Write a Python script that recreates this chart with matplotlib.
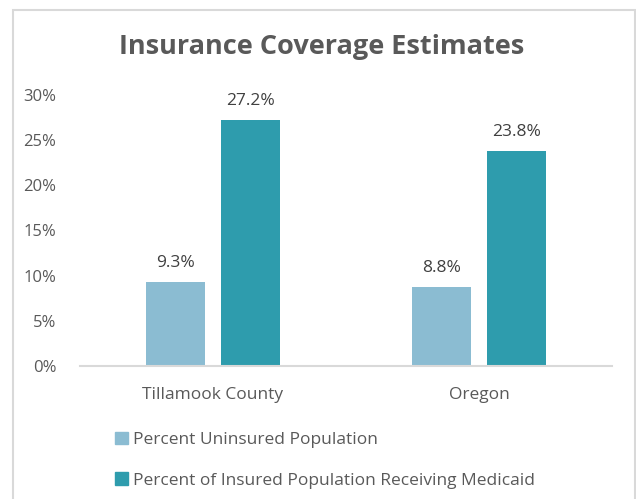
import numpy as np
import matplotlib.pyplot as plt
from matplotlib.patches import Rectangle, Patch

# ----------  Data  ----------
categories = ['Tillamook County', 'Oregon']
uninsured = [9.3, 8.8]
medicaid = [27.2, 23.8]
series_names = ['Percent Uninsured Population',
                'Percent of Insured Population Receiving Medicaid']
y_ticks = [0, 5, 10, 15, 20, 25, 30]

# ----------  Style  ----------
light = '#8bbcd2'
dark = '#2e9cad'
text_grey = '#595959'
plt.rcParams['font.family'] = ['Open Sans', 'DejaVu Sans']

fig = plt.figure(figsize=(6.36, 4.99), dpi=100)
ax = fig.add_axes([80/636, 1 - 366/499, 532/636, 271/499])

# chart frame
fig.patches.append(Rectangle((13/636, -0.1), 622/636, 1 - 10/499 + 0.1,
                             transform=fig.transFigure, fill=False,
                             edgecolor='#d9d9d9', linewidth=1.5))

x = np.arange(len(categories))
w = 0.222
off = 0.141
b1 = ax.bar(x - off, uninsured, w, color=light)
b2 = ax.bar(x + off, medicaid, w, color=dark)

for bars, vals in ((b1, uninsured), (b2, medicaid)):
    for b, v in zip(bars, vals):
        ax.text(b.get_x() + b.get_width()/2, v + 1.2, f'{v:.1f}%',
                ha='center', va='bottom', fontsize=12.5, color='#404040')

ax.set_xlim(-0.5, 1.5)
ax.set_ylim(0, 30)
ax.set_yticks(y_ticks)
ax.set_yticklabels([f'{t}%' for t in y_ticks])
ax.set_xticks(x)
ax.set_xticklabels(categories)
ax.tick_params(axis='both', length=0, labelsize=12, colors=text_grey)
ax.tick_params(axis='x', labelsize=12.5)
ax.tick_params(axis='y', pad=17)
ax.tick_params(axis='x', pad=15)
for s in ('top', 'right', 'left'):
    ax.spines[s].set_visible(False)
ax.spines['bottom'].set_color('#d9d9d9')
ax.spines['bottom'].set_linewidth(1.5)

fig.text(322/636, 1 - 47/499, 'Insurance Coverage Estimates', ha='center',
         va='center', fontsize=19.5, fontweight='bold', color=text_grey)

handles = [Patch(color=light), Patch(color=dark)]
fig.legend(handles, series_names, loc='upper left',
           bbox_to_anchor=(99/636, 1 - 416/499), frameon=False,
           fontsize=12.5, labelcolor=text_grey, handlelength=0.75,
           handleheight=0.75, handletextpad=0.3, labelspacing=1.4)

plt.savefig('out.png', dpi=100)
